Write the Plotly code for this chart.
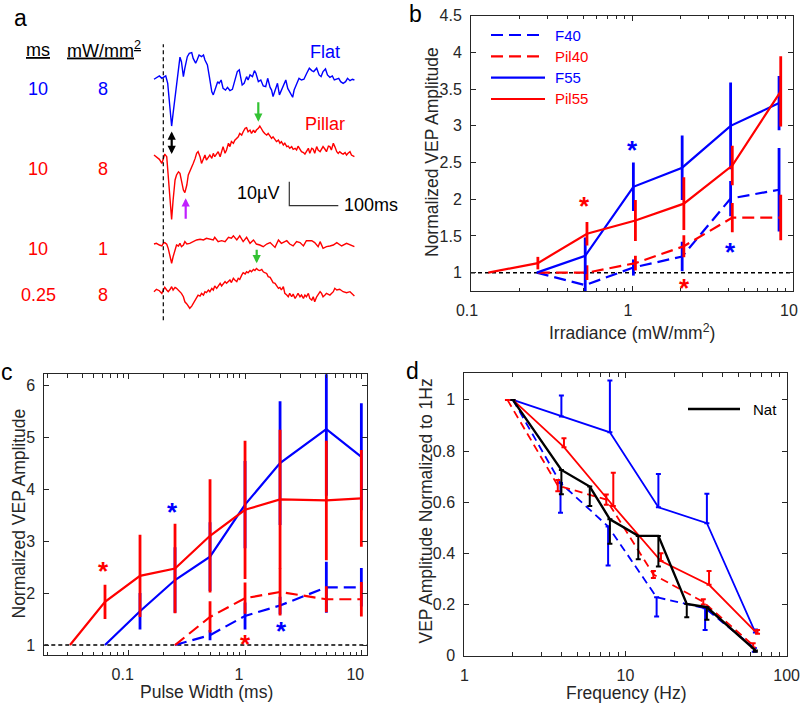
import numpy as np
import plotly.graph_objects as go

W, H = 800, 703
FONT = "Liberation Sans, Arial, sans-serif"
BLUE = "#0000FF"
RED = "#FF0000"
BLACK = "#000000"
AXC = "#262626"
GREEN = "#33C233"
MAGENTA = "#C020FF"

# ---------------- panel a: example VEP traces (time ms, amplitude uV) ----------------
a_flat = [(-19,-0.4),(-14,0.4),(-8,1.0),(-3,0),(0,0.4),(5,1.0),(9,-2.1),(14,-11.8),(17,-19.9),(20,-14.6),
          (25,-6.3),(29,2.1),(34,8.8),(37,6.9),(41,0.7),(44,4.2),(49,9.0),(53,10.4),(58,10.7),(61,8.3),
          (66,6.3),(69,7.6),(73,9.7),(78,9.0),(82,9.7),(85,7.6),(90,5.6),(94,0.7),(99,-5.6),(102,-6.9),
          (107,-3.5),(111,-1.4),(114,-2.1),(118,-0.7),(122,-4.2),(127,-4.9),(131,-3.8),(136,-5.1),(141,-4.6),(146,-0.7),
          (151,2.8),(155,3.5),(158,0.7),(161,-2.8),(165,-2.1),(170,0.7),(173,-0.7),(177,1.4),(182,0.7),(186,3.2),
          (189,2.1),(194,-1.4),(199,-0.7),(204,-3.2),(209,-3.5),(213,0),(218,-3.8),(221,-4.9),(224,-7.6),(228,-4.9),
          (233,-2.1),(237,-6.9),(241,-4.9),(245,-2.8),(250,-0.7),(254,-4.2),(258,-5.6),(264,-7.9),(267,-4.9),(272,-2.8),
          (277,0),(282,-0.7),(287,-0.4),(292,1.8),(298,4.2),(303,3.2),(307,2.8),(313,4.2),(318,1.4),(322,0.7),
          (326,2.8),(331,3.9),(335,1.4),(340,0.4),(345,1.0),(349,-0.7),(354,-0.4),(358,0),(362,-1.4),(367,-2.1),
          (372,-1.4),(376,0),(381,-1.0),(386,-0.4),(390,-0.7)]

a_pillar = [(-19,0.7),(-14,0),(-8,-1.1),(-3,-2.8),(0,-0.7),(3,1.1),(7,0),(10,-6.9),(14,-18.1),(17,-26.1),
            (20,-18.1),(24,-9.7),(27,-7.6),(31,-6.3),(34,-6.9),(37,-9.7),(41,-13.9),(44,-15.0),(48,-11.8),(51,-7.6),
            (54,-6.3),(58,-4.2),(61,-2.8),(65,-0.7),(68,1.4),(71,2.1),(75,0),(78,-2.8),(82,-0.7),(85,0.7),
            (88,-1.4),(92,0),(95,0.7),(99,-0.7),(102,1.4),(105,0),(109,1.4),(112,2.1),(116,0),(119,2.1),
            (122,4.2),(126,1.4),(129,2.8),(133,5.6),(136,4.2),(139,6.3),(143,5.6),(146,6.9),(150,7.6),(153,8.3),
            (156,9.7),(160,9.0),(163,10.4),(167,11.8),(170,12.1),(173,10.4),(177,11.1),(180,9.7),(184,11.1),(187,10.0),
            (190,11.1),(194,11.8),(197,12.8),(201,11.1),(204,10.4),(207,9.7),(211,9.0),(214,9.7),(218,8.3),(221,7.6),
            (224,8.3),(228,6.9),(231,6.3),(235,6.9),(238,5.6),(241,6.3),(245,4.9),(248,5.6),(252,4.2),(255,4.4),
            (258,3.5),(262,4.2),(265,3.1),(269,3.5),(272,2.8),(275,4.4),(279,2.8),(282,2.1),(286,1.7),(289,1.1),
            (292,2.1),(296,3.5),(299,1.4),(303,3.5),(306,3.1),(309,1.4),(313,4.2),(316,2.8),(320,2.1),(323,3.5),
            (326,4.2),(330,3.1),(333,2.1),(337,4.4),(340,4.2),(343,2.8),(347,5.6),(350,4.2),(354,2.1),(357,1.4),
            (360,2.1),(364,1.4),(367,1.1),(371,1.7),(374,0.7),(377,1.4),(381,2.1),(384,0.7),(390,0)]

a_low_irr = [(-19,0.4),(-14,0.7),(-8,0),(-3,-0.4),(0,0.7),(3,1.0),(7,0.3),(10,-1.4),(14,-4.9),(17,-7.6),
             (20,-4.9),(24,-1.4),(27,0),(31,-0.4),(34,0.7),(37,-0.7),(41,0),(44,1.4),(48,0.4),(54,0.7),
             (61,1.4),(68,2.1),(75,2.4),(82,2.1),(88,2.8),(95,2.4),(102,2.1),(105,3.2),(112,1.4),(119,1.8),
             (126,1.4),(133,3.2),(139,2.8),(143,3.8),(150,2.1),(156,3.8),(163,1.4),(170,3.2),(177,0.7),(184,2.1),
             (190,0.4),(197,0),(204,-0.7),(211,0.4),(218,1.0),(228,-1.0),(235,2.1),(241,0.7),(252,1.8),(258,0.4),
             (265,-0.4),(272,1.4),(279,1.0),(286,-0.4),(292,1.8),(303,1.8),(309,1.0),(316,-0.7),(320,1.4),(326,-1.4),
             (333,-0.7),(340,-0.4),(347,0),(354,1.0),(364,-0.4),(374,0.7),(381,0),(390,-0.7)]

a_short_pw = [(-19,0),(-14,1.0),(-8,0.4),(-3,-0.7),(0,0.7),(3,1.8),(7,0.7),(10,0),(14,1.0),(17,2.1),
              (20,0.7),(24,1.8),(27,1.4),(34,0),(37,-0.7),(41,-2.1),(44,-4.2),(48,-5.1),(51,-6.3),(54,-6.9),
              (58,-6.0),(61,-4.9),(65,-3.5),(68,-2.1),(71,-1.4),(75,-1.8),(78,-0.7),(82,-1.4),(85,0),(88,-0.4),
              (92,0.7),(95,0),(99,1.4),(102,0.7),(105,2.4),(109,1.4),(112,2.1),(116,3.5),(119,2.4),(122,3.2),
              (126,4.2),(129,3.5),(133,4.2),(136,4.9),(139,3.8),(143,5.6),(146,4.9),(150,4.2),(153,5.6),(156,5.1),
              (160,6.9),(163,7.9),(167,7.4),(170,8.3),(173,7.9),(177,8.8),(180,8.3),(184,9.3),(187,8.8),(190,9.7),
              (194,9.0),(197,8.8),(201,9.3),(204,8.3),(207,7.9),(211,7.6),(214,6.3),(218,6.0),(221,4.9),(224,3.8),
              (228,3.5),(231,2.4),(235,1.4),(238,1.8),(241,0.7),(245,2.1),(248,-0.7),(252,-1.4),(255,-2.1),(258,-0.7),
              (262,-2.1),(265,-1.0),(269,-2.8),(272,-1.8),(275,-0.7),(279,-2.1),(282,-1.4),(286,-2.8),(289,-1.4),(292,-2.1),
              (296,-0.7),(299,-2.8),(303,-3.5),(306,-2.1),(309,-4.2),(313,-2.1),(316,-1.4),(320,0),(323,-0.7),(326,-2.1),
              (330,-1.4),(333,-0.7),(340,-1.4),(347,0),(350,1.4),(354,0.7),(360,1.0),(367,0),(374,-0.4),(381,0),(390,-1.8)]

a_rows_ms = ["10", "10", "10", "0.25"]
a_rows_irr = ["8", "8", "1", "8"]
SCALE_UV = 10
SCALE_MS = 100

# ---------------- panel b: irradiance series ----------------
b_x_flat = [0.256, 0.512, 1.02, 2.05, 4.1, 8.2]
b_x_pil55 = [0.128, 0.26, 0.525, 1.05, 2.1, 4.2, 8.4]
b_x_pil40 = [0.26, 0.525, 1.05, 2.1, 4.2, 8.4]
b_f40 = [1.0, 0.83, 1.07, 1.22, 2.01, 2.13]
b_f40_err = [0, 0.2, 0.11, 0.2, 0.24, 0.57]
b_pil40 = [1.0, 1.0, 1.13, 1.36, 1.75, 1.75]
b_pil40_err = [0, 0.1, 0.1, 0.15, 0.2, 0.31]
b_f55 = [1.0, 1.23, 2.17, 2.43, 3.0, 3.31]
b_f55_err = [0, 0.25, 0.33, 0.44, 0.59, 0.37]
b_pil55 = [1.0, 1.13, 1.53, 1.71, 1.94, 2.46, 3.47]
b_pil55_err = [0, 0.085, 0.16, 0.28, 0.36, 0.27, 0.48]
b_star_x = [0.506, 1.0, 2.11, 4.07]
b_star_y = [1.99, 2.75, 0.877, 1.367]
b_star_c = [RED, BLUE, RED, BLUE]
b_legend = [("F40", BLUE, True), ("Pil40", RED, True), ("F55", BLUE, False), ("Pil55", RED, False)]

# ---------------- panel c: pulse width series ----------------
c_x_pil55 = [0.03125, 0.0625, 0.125, 0.25, 0.5, 1, 2, 5, 10]
c_x_f55 = [0.0625, 0.125, 0.25, 0.5, 1, 2, 5, 10]
c_x_40 = [0.25, 0.5, 1, 2, 5, 10]
c_pil55 = [1.0, 1.83, 2.33, 2.47, 3.1, 3.6, 3.8, 3.78, 3.82]
c_pil55_err = [0, 0.33, 0.79, 0.86, 1.09, 1.33, 1.34, 1.15, 0.93]
c_f55 = [1.0, 1.65, 2.25, 2.7, 3.7, 4.5, 5.15, 4.62]
c_f55_err = [0, 0.35, 0.63, 0.66, 0.84, 1.19, 1.28, 1.03]
c_pil40 = [1.0, 1.54, 1.9, 2.02, 1.88, 1.88]
c_pil40_err = [0, 0.3, 0.3, 0.45, 0.25, 0.33]
c_f40 = [1.0, 1.19, 1.56, 1.76, 2.11, 2.11]
c_f40_err = [0, 0.1, 0.26, 0.17, 0.49, 0.37]
c_star_x = [0.0605, 0.24, 1.0, 2.07]
c_star_y = [2.54, 3.68, 1.14, 1.38]
c_star_c = [RED, BLUE, RED, BLUE]

# ---------------- panel d: frequency series ----------------
d_x_f55 = [2, 4, 8, 16, 32, 64]
d_f55 = [1.0, 0.935, 0.873, 0.58, 0.518, 0.09]
d_f55_up = [0, 0.082, 0.203, 0.13, 0.115, 0.012]
d_x_pil55 = [2, 4.15, 8.4, 16.6, 33, 66]
d_pil55 = [1.0, 0.815, 0.585, 0.37, 0.277, 0.085]
d_pil55_up = [0, 0.035, 0.13, 0.03, 0.054, 0.015]
d_x_pil40 = [1.85, 3.8, 7.6, 14.9, 30.4, 62]
d_pil40 = [1.0, 0.665, 0.61, 0.317, 0.21, 0.04]
d_pil40_err = [0, 0.022, 0.02, 0.014, 0.01, 0.008]
d_x_f40 = [2, 3.95, 7.8, 15.6, 31.2, 63]
d_f40 = [1.0, 0.675, 0.505, 0.228, 0.185, 0.03]
d_f40_lo = [0, 0.116, 0.153, 0.075, 0.085, 0.015]
d_x_nat = [2, 4, 6, 8, 12, 16, 24, 32, 64]
d_nat = [1.0, 0.726, 0.661, 0.533, 0.468, 0.468, 0.202, 0.189, 0.02]
d_nat_lo = [0, 0.095, 0.076, 0.096, 0.091, 0.12, 0.052, 0.049, 0.005]

# ---------------- helpers ----------------
def px_x(p):
    return p / W

def px_y(p):
    return 1 - p / H

def err_segments(x, y, e):
    xs, ys = [], []
    for xi, yi, ei in zip(x, y, e):
        if ei > 0:
            xs += [xi, xi, None]
            ys += [yi - ei, yi + ei, None]
    return xs, ys

fig = go.Figure()

# ---------------- panel a drawing ----------------
A_L, A_R, A_T, A_B = 150, 400, 40, 325
T0_PX = 163.3
PX_PER_MS = 0.49
PX_PER_UV = 2.4
a_baselines_px = [78.3, 156.7, 245.0, 291.7]
a_offsets = [(A_B - b) / PX_PER_UV for b in a_baselines_px]
a_traces = [(a_flat, BLUE), (a_pillar, RED), (a_low_irr, RED), (a_short_pw, RED)]
for (tr, col), off in zip(a_traces, a_offsets):
    t = np.array([p[0] for p in tr], dtype=float)
    v = np.array([p[1] for p in tr], dtype=float)
    fig.add_trace(go.Scatter(x=t, y=v + off, mode="lines", line=dict(color=col, width=1.4),
                             xaxis="x", yaxis="y", showlegend=False, hoverinfo="skip"))

sb_t = (289.3 - T0_PX) / PX_PER_MS
sb_v = (A_B - 205.7) / PX_PER_UV
fig.add_trace(go.Scatter(x=[sb_t, sb_t, sb_t + SCALE_MS], y=[sb_v + SCALE_UV, sb_v, sb_v],
                         mode="lines", line=dict(color="#333333", width=1.2),
                         xaxis="x", yaxis="y", showlegend=False, hoverinfo="skip"))

# ---------------- panels b, c drawing ----------------
DASH = "12px,6px"

def add_series(xv, yv, ev, col, dash, name, xa, ya, lw=2.2, ew=2.8):
    fig.add_trace(go.Scatter(x=xv, y=yv, mode="lines", name=name,
                             line=dict(color=col, width=lw, dash=DASH if dash else "solid"),
                             xaxis=xa, yaxis=ya, showlegend=False))
    sx, sy = err_segments(xv, yv, ev)
    fig.add_trace(go.Scatter(x=sx, y=sy, mode="lines", line=dict(color=col, width=ew),
                             xaxis=xa, yaxis=ya, showlegend=False, hoverinfo="skip"))

add_series(b_x_flat, b_f40, b_f40_err, BLUE, True, "F40", "x2", "y2")
add_series(b_x_pil40, b_pil40, b_pil40_err, RED, True, "Pil40", "x2", "y2")
add_series(b_x_flat, b_f55, b_f55_err, BLUE, False, "F55", "x2", "y2")
add_series(b_x_pil55, b_pil55, b_pil55_err, RED, False, "Pil55", "x2", "y2")

add_series(c_x_40, c_f40, c_f40_err, BLUE, True, "F40", "x3", "y3")
add_series(c_x_40, c_pil40, c_pil40_err, RED, True, "Pil40", "x3", "y3")
add_series(c_x_f55, c_f55, c_f55_err, BLUE, False, "F55", "x3", "y3")
add_series(c_x_pil55, c_pil55, c_pil55_err, RED, False, "Pil55", "x3", "y3")

# ---------------- panel d drawing ----------------
def add_d(xv, yv, up, lo, col, dash, name, lw=1.8):
    fig.add_trace(go.Scatter(
        x=xv, y=yv, mode="lines", name=name,
        line=dict(color=col, width=lw, dash="8px,5px" if dash else "solid"),
        error_y=dict(type="data", symmetric=False, array=up, arrayminus=lo,
                     color=col, thickness=2, width=2.5),
        xaxis="x4", yaxis="y4", showlegend=False))

zeros = lambda n: [0] * n
add_d(d_x_f40, d_f40, zeros(len(d_f40)), d_f40_lo, BLUE, True, "F40")
add_d(d_x_pil40, d_pil40, d_pil40_err, d_pil40_err, RED, True, "Pil40")
add_d(d_x_f55, d_f55, d_f55_up, zeros(len(d_f55)), BLUE, False, "F55")
add_d(d_x_pil55, d_pil55, d_pil55_up, zeros(len(d_pil55)), RED, False, "Pil55")
add_d(d_x_nat, d_nat, zeros(len(d_nat)), d_nat_lo, BLACK, False, "Nat", lw=2.4)

# ---------------- axes ----------------
def box_axis(**kw):
    base = dict(showline=True, linecolor=AXC, linewidth=1, mirror="allticks", ticks="inside",
                ticklen=5, tickwidth=1, tickcolor=AXC, showgrid=False, zeroline=False,
                automargin=False, fixedrange=True, ticklabelstandoff=5, ticklabeloverflow="allow",
                tickfont=dict(family=FONT, size=16, color=AXC))
    base.update(kw)
    return base

def minor_log(exps):
    vals = [m * 10.0 ** e for e in exps for m in range(2, 10)]
    return dict(ticks="inside", ticklen=3.5, tickwidth=1, tickcolor=AXC, tickmode="array",
                tickvals=vals, showgrid=False)

layout = dict(
    width=W, height=H, margin=dict(l=0, r=0, t=0, b=0),
    paper_bgcolor="white", plot_bgcolor="white",
    font=dict(family=FONT, color=AXC), showlegend=False,
    xaxis=dict(domain=[px_x(A_L), px_x(A_R)], range=[(A_L - T0_PX) / PX_PER_MS, (A_R - T0_PX) / PX_PER_MS],
               visible=False, fixedrange=True),
    yaxis=dict(domain=[px_y(A_B), px_y(A_T)], range=[0, (A_B - A_T) / PX_PER_UV],
               visible=False, fixedrange=True),
    xaxis2=box_axis(domain=[px_x(471), px_x(793)], type="log", range=[-1.0005, 1.0005], anchor="y2",
                    tickmode="array", tickvals=[0.1, 1, 10], ticktext=["0.1", "1", "10"],
                    minor=minor_log([-1, 0]), ticklabelshift=-4),
    yaxis2=box_axis(domain=[px_y(291), px_y(15.7)], range=[0.75, 4.501], anchor="x2", dtick=0.5, tick0=0),
    xaxis3=box_axis(domain=[px_x(44.3), px_x(366.7)], type="log", range=[-1.726, 1.046], anchor="y3",
                    tickmode="array", tickvals=[0.1, 1, 10], ticktext=["0.1", "1", "10"],
                    minor=minor_log([-2, -1, 0, 1]), ticklabelshift=-6),
    yaxis3=box_axis(domain=[px_y(655), px_y(374.3)], range=[0.808, 6.206], anchor="x3", dtick=1, tick0=0),
    xaxis4=box_axis(domain=[px_x(464.3), px_x(786.7)], type="log", range=[-0.0005, 2.0005], anchor="y4",
                    tickmode="array", tickvals=[1, 10, 100], ticktext=["1", "10", "100"],
                    minor=minor_log([0, 1])),
    yaxis4=box_axis(domain=[px_y(655.7), px_y(373.3)], range=[-0.0005, 1.104], anchor="x4", dtick=0.2, tick0=0),
)
fig.update_layout(**layout)

# reference lines at 1 (panels b, c), stimulus onset (panel a), legend samples
shapes = []
for xa, ya in [("x2", "y2"), ("x3", "y3")]:
    shapes.append(dict(type="line", xref=xa + " domain", x0=0, x1=1, yref=ya, y0=1, y1=1,
                       line=dict(color=BLACK, width=1.5, dash="4px,3px"), layer="below"))
shapes.append(dict(type="line", xref="x", yref="y", x0=0, x1=0, y0=2, y1=117,
                   line=dict(color=BLACK, width=1.2, dash="4px,3px")))

ann = []

def ptext(x, y, text, size=18, color=BLACK, xanchor="center", angle=0):
    ann.append(dict(x=px_x(x), y=px_y(y), xref="paper", yref="paper", text=text, showarrow=False,
                    xanchor=xanchor, yanchor="middle", textangle=angle,
                    font=dict(family=FONT, size=size, color=color)))

# legends (panel b and panel d)
LEG_Y = [35, 56.3, 77.7, 99]
for yy, (lab, col, dsh) in zip(LEG_Y, b_legend):
    shapes.append(dict(type="line", xref="paper", yref="paper", x0=px_x(491), x1=px_x(545),
                       y0=px_y(yy), y1=px_y(yy), line=dict(color=col, width=2.2, dash=DASH if dsh else "solid")))
    ptext(553, yy, lab, size=15, color=col, xanchor="left")
shapes.append(dict(type="line", xref="paper", yref="paper", x0=px_x(688), x1=px_x(740),
                   y0=px_y(409), y1=px_y(409), line=dict(color=BLACK, width=2.4)))
ptext(751, 409, "Nat", size=15, color=BLACK, xanchor="left")
fig.update_layout(shapes=shapes)

# significance asterisks
for xs, ys, cs, xa, ya in [(b_star_x, b_star_y, b_star_c, "x2", "y2"), (c_star_x, c_star_y, c_star_c, "x3", "y3")]:
    for xv, yv, cv in zip(xs, ys, cs):
        ann.append(dict(x=np.log10(xv), y=yv, xref=xa, yref=ya, text="<b>*</b>", showarrow=False,
                        font=dict(family=FONT, size=26, color=cv), yshift=-6))

# axis titles
TS = 17.5
ptext(631.7, 332, "Irradiance (mW/mm<sup>2</sup>)", size=TS, color=AXC)
ptext(431.5, 152.5, "Normalized VEP Amplitude", size=TS, color=AXC, angle=-90)
ptext(206.7, 692, "Pulse Width (ms)", size=TS, color=AXC)
ptext(18.5, 514, "Normalized VEP Amplitude", size=TS, color=AXC, angle=-90)
ptext(626.7, 693, "Frequency (Hz)", size=TS, color=AXC)
ptext(425.5, 511, "VEP Amplitude Normalized to 1Hz", size=TS, color=AXC, angle=-90)

# panel letters
ptext(20, 18, "a", size=23)
ptext(415, 14, "b", size=23)
ptext(7, 372, "c", size=23)
ptext(412, 371, "d", size=23)

# panel a labels
ptext(38.3, 50, "<u>ms</u>")
ptext(104.3, 50, "<u>mW/mm<sup>2</sup></u>")
row_y = [89.3, 169.3, 249.3, 295]
row_c = [BLUE, RED, RED, RED]
for yy, ms, irr, cc in zip(row_y, a_rows_ms, a_rows_irr, row_c):
    ptext(38.3, yy, ms, color=cc)
    ptext(103.3, yy, irr, color=cc)
ptext(325, 51.7, "Flat", color=BLUE)
ptext(325, 124, "Pillar", color=RED)
ptext(258.3, 193.3, "%dµV" % SCALE_UV)
ptext(370.7, 205, "%dms" % SCALE_MS)

# arrows in panel a
def parrow(x, y, ax, ay, color, both=False):
    ann.append(dict(x=px_x(x), y=px_y(y), xref="paper", yref="paper", text="", showarrow=True,
                    ax=ax, ay=ay, axref="pixel", ayref="pixel", arrowhead=2, arrowsize=0.75,
                    arrowwidth=2.2, arrowcolor=color, arrowside="end+start" if both else "end"))

parrow(171.7, 131.5, 0, 24, BLACK, both=True)
parrow(258.3, 121.7, 0, -21, GREEN)
parrow(256.7, 263.3, 0, -15, GREEN)
parrow(185.7, 198.3, 0, 22, MAGENTA)

fig.update_layout(annotations=ann)

fig.write_html("out.html", config={"displayModeBar": False},
               post_script="document.body.style.margin='0px';")
